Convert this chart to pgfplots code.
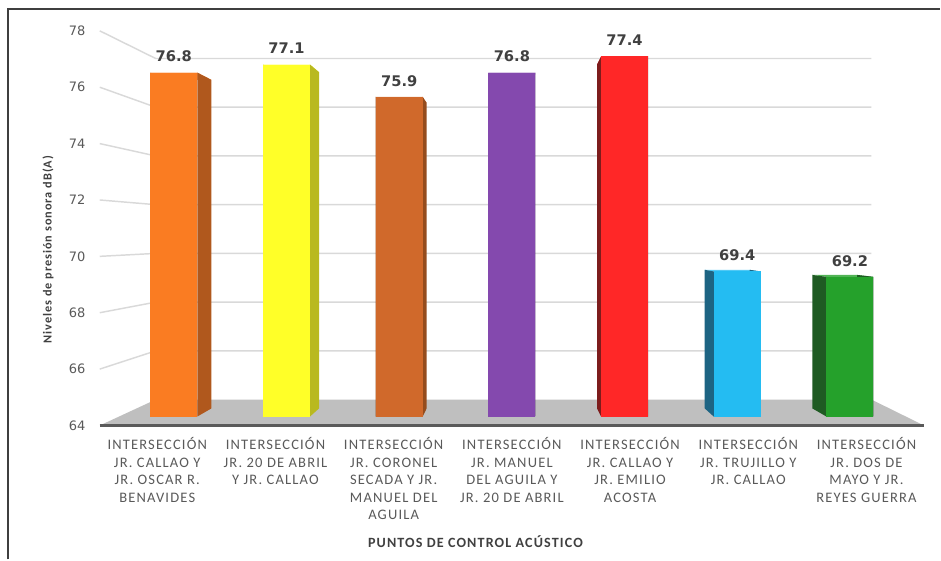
\documentclass[border=0pt]{standalone}
\usepackage{pgfplots}
\pgfplotsset{compat=1.18}
\usetikzlibrary{calc}
\usepackage{fontspec}
\setmainfont{Carlito}
\newfontfamily\numfont{DejaVu Sans}
\newfontfamily\catfont[LetterSpace=8]{Carlito}
\newfontfamily\ttlfont[LetterSpace=8]{Carlito}

\definecolor{gridc}{HTML}{D9D9D9}
\definecolor{floorc}{HTML}{BFBFBF}
\definecolor{edgec}{HTML}{5A5A5A}
\definecolor{txt}{HTML}{595959}
\definecolor{txtd}{HTML}{404040}
\definecolor{framec}{HTML}{3F3F3F}
% front / side colours of the bars
\definecolor{c1}{HTML}{FA7C22}\definecolor{s1}{HTML}{B0581D}
\definecolor{c2}{HTML}{FFFF28}\definecolor{s2}{HTML}{B9B91F}
\definecolor{c3}{HTML}{D0692B}\definecolor{s3}{HTML}{954C1D}
\definecolor{c4}{HTML}{8449AE}\definecolor{s4}{HTML}{5B3279}
\definecolor{c5}{HTML}{FF2727}\definecolor{s5}{HTML}{7D1C1C}
\definecolor{c6}{HTML}{24BCF2}\definecolor{s6}{HTML}{1D6483}
\definecolor{c7}{HTML}{25A12B}\definecolor{s7}{HTML}{1F5B23}

% vanishing point (3, 70.77), depth factor of the bars 0.955
% #1 position, #2 value, #3 front colour, #4 side colour
\newcommand{\drawbar}[4]{%
  \pgfmathsetmacro{\xl}{#1-0.2083}%
  \pgfmathsetmacro{\xr}{#1+0.2083}%
  \pgfmathsetmacro{\xlb}{3+(\xl-3)*0.955}%
  \pgfmathsetmacro{\xrb}{3+(\xr-3)*0.955}%
  \pgfmathsetmacro{\ytb}{70.77+(#2-70.77)*0.955}%
  \pgfmathsetmacro{\ybb}{70.77+(64-70.77)*0.955}%
  \addplot[fill=#3!80!white, draw=none] coordinates {(\xl,#2) (\xr,#2) (\xrb,\ytb) (\xlb,\ytb)};
  \addplot[fill=#4, draw=none] coordinates {(\xr,64) (\xrb,\ybb) (\xrb,\ytb) (\xr,#2)};
  \addplot[fill=#4, draw=none] coordinates {(\xl,64) (\xlb,\ybb) (\xlb,\ytb) (\xl,#2)};
  \addplot[fill=#3, draw=none] coordinates {(\xl,64) (\xr,64) (\xr,#2) (\xl,#2)};
  \node[anchor=base, inner sep=0pt, yshift=8pt, text=txtd,
        font=\numfont\bfseries\fontsize{11}{13}\selectfont] at (axis cs:#1,#2) {#2};
}

\begin{document}
\begin{tikzpicture}
\begin{axis}[
  scale only axis, width=705.75pt, height=420pt,
  xmin=-1.54255, xmax=6.79965, ymin=58.684, ymax=79.5019,
  hide axis, clip=false,
]
\path (rel axis cs:0,0) rectangle (rel axis cs:1,1);
\coordinate (vp) at (axis cs:3,70.77);

% back wall grid and left wall lines
\pgfplotsinvokeforeach{66,68,70,72,74,76,78}{
  \draw[gridc, line width=1.1pt]
    ($(vp)!1.049!(axis cs:-0.4865,#1)$) -- ($(vp)!0.9066!(axis cs:-0.4865,#1)$)
    -- ($(vp)!0.9066!(axis cs:6.52,#1)$);
}
% floor
\fill[floorc] ($(vp)!1.049!(axis cs:-0.4865,64)$) -- ($(vp)!1.049!(axis cs:6.4865,64)$)
  -- ($(vp)!0.9066!(axis cs:6.52,64)$) -- ($(vp)!0.9066!(axis cs:-0.4865,64)$) -- cycle;
\draw[edgec, line width=1.6pt] ($(vp)!1.049!(axis cs:-0.4865,64)$) -- ($(vp)!1.049!(axis cs:6.4865,64)$);

% tick labels
\pgfplotsinvokeforeach{64,66,68,70,72,74,76,78}{
  \node[anchor=east, inner sep=0pt, xshift=-10.5pt, text=txt,
        font=\numfont\fontsize{9.75}{12}\selectfont]
    at ($(vp)!1.049!(axis cs:-0.4865,#1)$) {#1};
}

\drawbar{0}{76.8}{c1}{s1}
\drawbar{1}{77.1}{c2}{s2}
\drawbar{2}{75.9}{c3}{s3}
\drawbar{3}{76.8}{c4}{s4}
\drawbar{4}{77.4}{c5}{s5}
\drawbar{5}{69.4}{c6}{s6}
\drawbar{6}{69.2}{c7}{s7}

% category labels
\tikzset{cat/.style={anchor=north, align=center, inner sep=0pt, yshift=-9pt, text=txt,
  font=\catfont\fontsize{10.9}{13.1}\selectfont}}
\node[cat] at (axis cs:-0.147,63.6683) {INTERSECCIÓN\\JR. CALLAO Y\\JR. OSCAR R.\\BENAVIDES};
\node[cat] at (axis cs:0.902,63.6683) {INTERSECCIÓN\\JR. 20 DE ABRIL\\Y JR. CALLAO};
\node[cat] at (axis cs:1.951,63.6683) {INTERSECCIÓN\\JR. CORONEL\\SECADA Y JR.\\MANUEL DEL\\AGUILA};
\node[cat] at (axis cs:3,63.6683) {INTERSECCIÓN\\JR. MANUEL\\DEL AGUILA Y\\JR. 20 DE ABRIL};
\node[cat] at (axis cs:4.049,63.6683) {INTERSECCIÓN\\JR. CALLAO Y\\JR. EMILIO\\ACOSTA};
\node[cat] at (axis cs:5.098,63.6683) {INTERSECCIÓN\\JR. TRUJILLO Y\\JR. CALLAO};
\node[cat] at (axis cs:6.147,63.6683) {INTERSECCIÓN\\JR. DOS DE\\MAYO Y JR.\\REYES GUERRA};

% axis titles
\node[text=txtd, font=\ttlfont\bfseries\fontsize{10.6}{12}\selectfont]
  at (axis cs:2.677,59.353) {PUNTOS DE CONTROL ACÚSTICO};
\node[rotate=90, text=txtd, font=\ttlfont\bfseries\fontsize{9.2}{11}\selectfont]
  at (axis cs:-1.117,70.208) {Niveles de presión sonora dB(A)};

% frame
\draw[framec, line width=1.5pt] (axis cs:-1.4716,58.684) -- (axis cs:-1.4716,79.167) -- (axis cs:6.79965,79.167);
\end{axis}
\end{tikzpicture}
\end{document}
